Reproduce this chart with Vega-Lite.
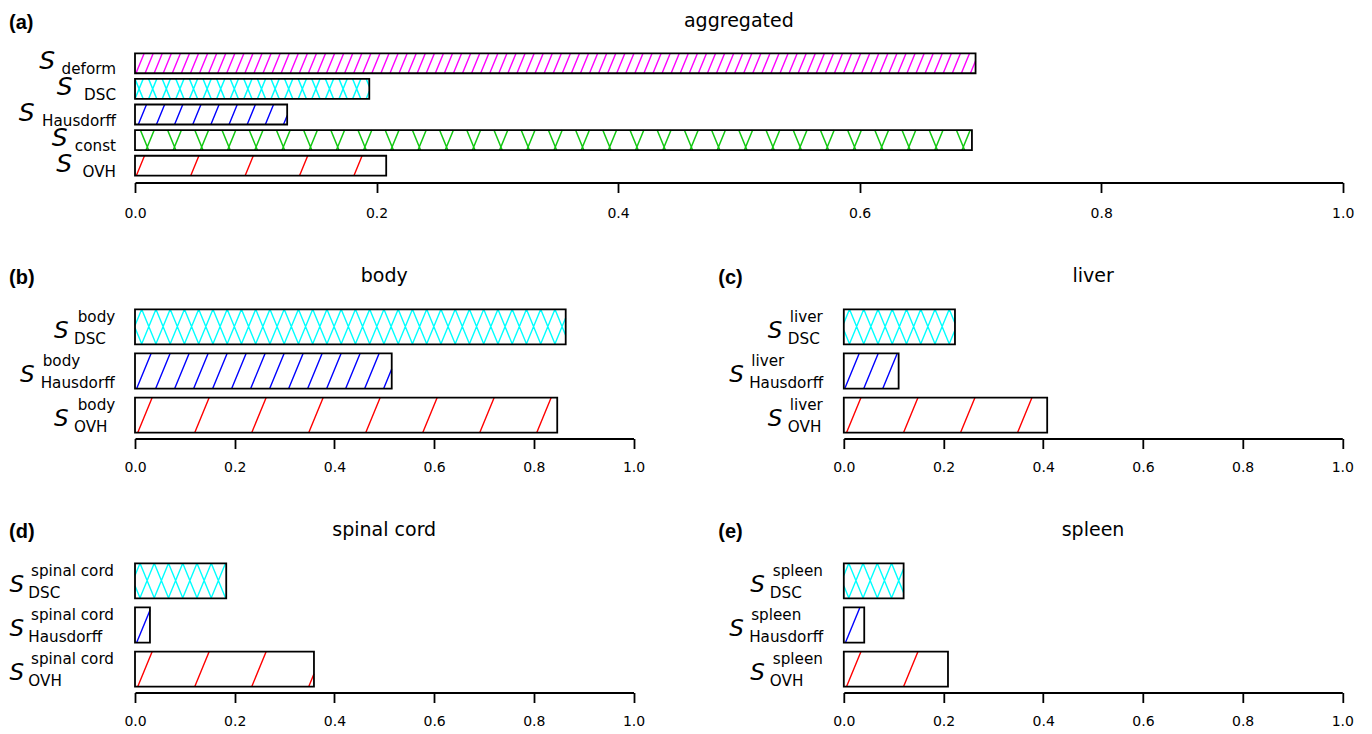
{
"$schema": "https://vega.github.io/schema/vega-lite/v6.json",
"background": "white",
"padding": {"left": 9, "top": 11.5, "right": 10, "bottom": 5},
"spacing": 46,
"resolve": {"scale": {"color": "independent", "shape": "independent"}},
"config": {"view": {"stroke": null}, "axis": {"grid": false}},
"vconcat": [
{
 "width": 1207.7, "height": 136,
 "data": {"values": [
  {"k": "a-deform", "v": 0.696, "sub": "deform"},
  {"k": "a-DSC", "v": 0.194, "sub": "DSC"},
  {"k": "a-Hausdorff", "v": 0.126, "sub": "Hausdorff"},
  {"k": "a-const", "v": 0.693, "sub": "const"},
  {"k": "a-OVH", "v": 0.208, "sub": "OVH"}
 ]},
 "encoding": {"y": {"field": "k", "type": "nominal", "sort": null, "axis": null, "scale": {"paddingInner": 0.22, "paddingOuter": 0.265}}},
 "layer": [
  {"mark": {"type": "point", "filled": false, "size": 4, "strokeWidth": 1.4, "opacity": 1},
   "encoding": {
    "x": {"datum": 0, "type": "quantitative", "scale": {"domain": [0, 1], "nice": false}, "axis": {"values": [0, 0.2, 0.4, 0.6, 0.8, 1], "format": ".1f", "title": null, "grid": false, "domainColor": "black", "domainWidth": 1.8, "tickColor": "black", "tickWidth": 1.8, "tickSize": 10, "labelFont": "DejaVu Sans", "labelFontSize": 14, "labelColor": "black", "labelPadding": 14, "labelFlush": false, "labelOverlap": false}},
    "shape": {"field": "k", "type": "nominal", "legend": null, "scale": {
      "domain": ["a-deform", "a-DSC", "a-Hausdorff", "a-const", "a-OVH"],
      "range": [
       "M 1 10 l 8.2 -20 m 0.87 20 l 8.2 -20 m 0.87 20 l 8.2 -20 m 0.87 20 l 8.2 -20 m 0.87 20 l 8.2 -20 m 0.87 20 l 8.2 -20 m 0.87 20 l 8.2 -20 m 0.87 20 l 8.2 -20 m 0.87 20 l 8.2 -20 m 0.87 20 l 8.2 -20 M 91.7 10 l 8.2 -20 m 0.87 20 l 8.2 -20 m 0.87 20 l 8.2 -20 m 0.87 20 l 8.2 -20 m 0.87 20 l 8.2 -20 m 0.87 20 l 8.2 -20 m 0.87 20 l 8.2 -20 m 0.87 20 l 8.2 -20 m 0.87 20 l 8.2 -20 m 0.87 20 l 8.2 -20 M 182.4 10 l 8.2 -20 m 0.87 20 l 8.2 -20 m 0.87 20 l 8.2 -20 m 0.87 20 l 8.2 -20 m 0.87 20 l 8.2 -20 m 0.87 20 l 8.2 -20 m 0.87 20 l 8.2 -20 m 0.87 20 l 8.2 -20 m 0.87 20 l 8.2 -20 m 0.87 20 l 8.2 -20 M 273.1 10 l 8.2 -20 m 0.87 20 l 8.2 -20 m 0.87 20 l 8.2 -20 m 0.87 20 l 8.2 -20 m 0.87 20 l 8.2 -20 m 0.87 20 l 8.2 -20 m 0.87 20 l 8.2 -20 m 0.87 20 l 8.2 -20 m 0.87 20 l 8.2 -20 m 0.87 20 l 8.2 -20 M 363.8 10 l 8.2 -20 m 0.87 20 l 8.2 -20 m 0.87 20 l 8.2 -20 m 0.87 20 l 8.2 -20 m 0.87 20 l 8.2 -20 m 0.87 20 l 8.2 -20 m 0.87 20 l 8.2 -20 m 0.87 20 l 8.2 -20 m 0.87 20 l 8.2 -20 m 0.87 20 l 8.2 -20 M 454.5 10 l 8.2 -20 m 0.87 20 l 8.2 -20 m 0.87 20 l 8.2 -20 m 0.87 20 l 8.2 -20 m 0.87 20 l 8.2 -20 m 0.87 20 l 8.2 -20 m 0.87 20 l 8.2 -20 m 0.87 20 l 8.2 -20 m 0.87 20 l 8.2 -20 m 0.87 20 l 8.2 -20 M 545.2 10 l 8.2 -20 m 0.87 20 l 8.2 -20 m 0.87 20 l 8.2 -20 m 0.87 20 l 8.2 -20 m 0.87 20 l 8.2 -20 m 0.87 20 l 8.2 -20 m 0.87 20 l 8.2 -20 m 0.87 20 l 8.2 -20 m 0.87 20 l 8.2 -20 m 0.87 20 l 8.2 -20 M 635.9 10 l 8.2 -20 m 0.87 20 l 8.2 -20 m 0.87 20 l 8.2 -20 m 0.87 20 l 8.2 -20 m 0.87 20 l 8.2 -20 m 0.87 20 l 8.2 -20 m 0.87 20 l 8.2 -20 m 0.87 20 l 8.2 -20 m 0.87 20 l 8.2 -20 m 0.87 20 l 8.2 -20 M 726.6 10 l 8.2 -20 m 0.87 20 l 8.2 -20 m 0.87 20 l 8.2 -20 m 0.87 20 l 8.2 -20 m 0.87 20 l 8.2 -20 m 0.87 20 l 8.2 -20 m 0.87 20 l 8.2 -20 m 0.87 20 l 8.2 -20 m 0.87 20 l 8.2 -20 m 0.87 20 l 8.2 -20 M 817.3 10 l 8.2 -20 m 0.87 20 l 8.2 -20 M 835.44 10 L 840.6 -2.6",
       "M 0 10 l 8.2 -20 m 5.4 20 l 8.2 -20 m 5.4 20 l 8.2 -20 m 5.4 20 l 8.2 -20 m 5.4 20 l 8.2 -20 m 5.4 20 l 8.2 -20 m 5.4 20 l 8.2 -20 m 5.4 20 l 8.2 -20 M 108.8 10 l 8.2 -20 m 5.4 20 l 8.2 -20 m 5.4 20 l 8.2 -20 m 5.4 20 l 8.2 -20 m 5.4 20 l 8.2 -20 m 5.4 20 l 8.2 -20 m 5.4 20 l 8.2 -20 m 5.4 20 l 8.2 -20 m 5.4 20 l 8.2 -20 M 231.2 10 L 234.3 2.44 M 0 -10 l 8.2 20 m 5.4 -20 l 8.2 20 m 5.4 -20 l 8.2 20 m 5.4 -20 l 8.2 20 m 5.4 -20 l 8.2 20 m 5.4 -20 l 8.2 20 m 5.4 -20 l 8.2 20 m 5.4 -20 l 8.2 20 M 108.8 -10 l 8.2 20 m 5.4 -20 l 8.2 20 m 5.4 -20 l 8.2 20 m 5.4 -20 l 8.2 20 m 5.4 -20 l 8.2 20 m 5.4 -20 l 8.2 20 m 5.4 -20 l 8.2 20 m 5.4 -20 l 8.2 20 m 5.4 -20 l 8.2 20 M 231.2 -10 L 234.3 -2.44",
       "M 3.3 10 l 8.2 -20 m 9.95 20 l 8.2 -20 m 9.95 20 l 8.2 -20 m 9.95 20 l 8.2 -20 m 9.95 20 l 8.2 -20 m 9.95 20 l 8.2 -20 m 9.95 20 l 8.2 -20 m 9.95 20 l 8.2 -20 M 148.5 10 L 152.2 1",
       "M 10.99 10 l 8.2 -20 m 19 20 l 8.2 -20 m 19 20 l 8.2 -20 m 19 20 l 8.2 -20 m 19 20 l 8.2 -20 m 19 20 l 8.2 -20 m 19 20 l 8.2 -20 m 19 20 l 8.2 -20 m 19 20 l 8.2 -20 m 19 20 l 8.2 -20 M 282.99 10 l 8.2 -20 m 19 20 l 8.2 -20 m 19 20 l 8.2 -20 m 19 20 l 8.2 -20 m 19 20 l 8.2 -20 m 19 20 l 8.2 -20 m 19 20 l 8.2 -20 m 19 20 l 8.2 -20 m 19 20 l 8.2 -20 m 19 20 l 8.2 -20 M 554.99 10 l 8.2 -20 m 19 20 l 8.2 -20 m 19 20 l 8.2 -20 m 19 20 l 8.2 -20 m 19 20 l 8.2 -20 m 19 20 l 8.2 -20 m 19 20 l 8.2 -20 m 19 20 l 8.2 -20 m 19 20 l 8.2 -20 m 19 20 l 8.2 -20 M 826.99 10 l 8.2 -20 M 5.41 -10 l 8.2 20 m 19 -20 l 8.2 20 m 19 -20 l 8.2 20 m 19 -20 l 8.2 20 m 19 -20 l 8.2 20 m 19 -20 l 8.2 20 m 19 -20 l 8.2 20 m 19 -20 l 8.2 20 m 19 -20 l 8.2 20 m 19 -20 l 8.2 20 M 277.41 -10 l 8.2 20 m 19 -20 l 8.2 20 m 19 -20 l 8.2 20 m 19 -20 l 8.2 20 m 19 -20 l 8.2 20 m 19 -20 l 8.2 20 m 19 -20 l 8.2 20 m 19 -20 l 8.2 20 m 19 -20 l 8.2 20 m 19 -20 l 8.2 20 M 549.41 -10 l 8.2 20 m 19 -20 l 8.2 20 m 19 -20 l 8.2 20 m 19 -20 l 8.2 20 m 19 -20 l 8.2 20 m 19 -20 l 8.2 20 m 19 -20 l 8.2 20 m 19 -20 l 8.2 20 m 19 -20 l 8.2 20 m 19 -20 l 8.2 20 M 821.41 -10 l 8.2 20",
       "M 1.3 10 l 8.2 -20 m 46.2 20 l 8.2 -20 m 46.2 20 l 8.2 -20 m 46.2 20 l 8.2 -20 m 46.2 20 l 8.2 -20"
      ]}},
    "color": {"field": "k", "type": "nominal", "legend": null, "scale": {
      "domain": ["a-deform", "a-DSC", "a-Hausdorff", "a-const", "a-OVH"],
      "range": ["#ff00ff", "#00ffff", "#0000ff", "#14c814", "#ff0000"]}}
   }},
  {"mark": {"type": "bar", "filled": false, "stroke": "black", "strokeWidth": 1.8},
   "encoding": {"x": {"field": "v", "type": "quantitative", "scale": {"domain": [0, 1], "nice": false},
     "axis": {"values": [0, 0.2, 0.4, 0.6, 0.8, 1], "format": ".1f", "title": null, "grid": false, "domainColor": "black", "domainWidth": 1.8, "tickColor": "black", "tickWidth": 1.8, "tickSize": 10, "labelFont": "DejaVu Sans", "labelFontSize": 14, "labelColor": "black", "labelPadding": 14, "labelFlush": false, "labelOverlap": false}}}},
  {"mark": {"type": "text", "align": "right", "baseline": "alphabetic", "dx": -19, "dy": 11, "fontSize": 15.2, "font": "DejaVu Sans"},
   "encoding": {"x": {"datum": 0, "type": "quantitative", "scale": {"domain": [0, 1], "nice": false}, "axis": {"values": [0, 0.2, 0.4, 0.6, 0.8, 1], "format": ".1f", "title": null, "grid": false, "domainColor": "black", "domainWidth": 1.8, "tickColor": "black", "tickWidth": 1.8, "tickSize": 10, "labelFont": "DejaVu Sans", "labelFontSize": 14, "labelColor": "black", "labelPadding": 14, "labelFlush": false, "labelOverlap": false}}, "text": {"field": "sub"}}},
  {"transform": [{"filter": "datum.k === 'a-deform'"}],
   "mark": {"type": "text", "align": "right", "baseline": "alphabetic", "dx": -80, "dy": 6, "fontSize": 25, "fontStyle": "italic", "font": "DejaVu Sans"},
   "encoding": {"x": {"datum": 0, "type": "quantitative", "scale": {"domain": [0, 1], "nice": false}, "axis": {"values": [0, 0.2, 0.4, 0.6, 0.8, 1], "format": ".1f", "title": null, "grid": false, "domainColor": "black", "domainWidth": 1.8, "tickColor": "black", "tickWidth": 1.8, "tickSize": 10, "labelFont": "DejaVu Sans", "labelFontSize": 14, "labelColor": "black", "labelPadding": 14, "labelFlush": false, "labelOverlap": false}}, "text": {"value": "S"}}},
  {"transform": [{"filter": "datum.k === 'a-DSC'"}],
   "mark": {"type": "text", "align": "right", "baseline": "alphabetic", "dx": -62.5, "dy": 6, "fontSize": 25, "fontStyle": "italic", "font": "DejaVu Sans"},
   "encoding": {"x": {"datum": 0, "type": "quantitative", "scale": {"domain": [0, 1], "nice": false}, "axis": {"values": [0, 0.2, 0.4, 0.6, 0.8, 1], "format": ".1f", "title": null, "grid": false, "domainColor": "black", "domainWidth": 1.8, "tickColor": "black", "tickWidth": 1.8, "tickSize": 10, "labelFont": "DejaVu Sans", "labelFontSize": 14, "labelColor": "black", "labelPadding": 14, "labelFlush": false, "labelOverlap": false}}, "text": {"value": "S"}}},
  {"transform": [{"filter": "datum.k === 'a-Hausdorff'"}],
   "mark": {"type": "text", "align": "right", "baseline": "alphabetic", "dx": -100.5, "dy": 6, "fontSize": 25, "fontStyle": "italic", "font": "DejaVu Sans"},
   "encoding": {"x": {"datum": 0, "type": "quantitative", "scale": {"domain": [0, 1], "nice": false}, "axis": {"values": [0, 0.2, 0.4, 0.6, 0.8, 1], "format": ".1f", "title": null, "grid": false, "domainColor": "black", "domainWidth": 1.8, "tickColor": "black", "tickWidth": 1.8, "tickSize": 10, "labelFont": "DejaVu Sans", "labelFontSize": 14, "labelColor": "black", "labelPadding": 14, "labelFlush": false, "labelOverlap": false}}, "text": {"value": "S"}}},
  {"transform": [{"filter": "datum.k === 'a-const'"}],
   "mark": {"type": "text", "align": "right", "baseline": "alphabetic", "dx": -67.5, "dy": 6, "fontSize": 25, "fontStyle": "italic", "font": "DejaVu Sans"},
   "encoding": {"x": {"datum": 0, "type": "quantitative", "scale": {"domain": [0, 1], "nice": false}, "axis": {"values": [0, 0.2, 0.4, 0.6, 0.8, 1], "format": ".1f", "title": null, "grid": false, "domainColor": "black", "domainWidth": 1.8, "tickColor": "black", "tickWidth": 1.8, "tickSize": 10, "labelFont": "DejaVu Sans", "labelFontSize": 14, "labelColor": "black", "labelPadding": 14, "labelFlush": false, "labelOverlap": false}}, "text": {"value": "S"}}},
  {"transform": [{"filter": "datum.k === 'a-OVH'"}],
   "mark": {"type": "text", "align": "right", "baseline": "alphabetic", "dx": -63, "dy": 6, "fontSize": 25, "fontStyle": "italic", "font": "DejaVu Sans"},
   "encoding": {"x": {"datum": 0, "type": "quantitative", "scale": {"domain": [0, 1], "nice": false}, "axis": {"values": [0, 0.2, 0.4, 0.6, 0.8, 1], "format": ".1f", "title": null, "grid": false, "domainColor": "black", "domainWidth": 1.8, "tickColor": "black", "tickWidth": 1.8, "tickSize": 10, "labelFont": "DejaVu Sans", "labelFontSize": 14, "labelColor": "black", "labelPadding": 14, "labelFlush": false, "labelOverlap": false}}, "text": {"value": "S"}}},
  {"data": {"values": [{"t": "aggregated"}]},
   "mark": {"type": "text", "align": "center", "baseline": "alphabetic", "fontSize": 19, "font": "DejaVu Sans"},
   "encoding": {"x": {"value": 603.85}, "y": {"value": -19.5}, "text": {"field": "t"}}},
  {"data": {"values": [{"t": "(a)"}]},
   "mark": {"type": "text", "align": "left", "baseline": "alphabetic", "fontSize": 20, "font": "Liberation Sans", "fontWeight": "bold"},
   "encoding": {"x": {"value": -126}, "y": {"value": -17.5}, "text": {"field": "t"}}}
 ]
},
{
 "hconcat": [
 {
  "width": 498.5, "height": 135,
  "data": {"values": [
   {"k": "b-DSC", "v": 0.864, "sup": "body", "sub": "DSC"},
   {"k": "b-Hausdorff", "v": 0.515, "sup": "body", "sub": "Hausdorff"},
   {"k": "b-OVH", "v": 0.847, "sup": "body", "sub": "OVH"}
  ]},
  "encoding": {"y": {"field": "k", "type": "nominal", "sort": null, "axis": null, "scale": {"paddingInner": 0.206, "paddingOuter": 0.131}}},
  "layer": [
   {"mark": {"type": "point", "filled": false, "size": 4, "strokeWidth": 1.4, "opacity": 1},
    "encoding": {
     "x": {"datum": 0, "type": "quantitative", "scale": {"domain": [0, 1], "nice": false}, "axis": {"values": [0, 0.2, 0.4, 0.6, 0.8, 1], "format": ".1f", "title": null, "grid": false, "domainColor": "black", "domainWidth": 1.8, "tickColor": "black", "tickWidth": 1.8, "tickSize": 10, "labelFont": "DejaVu Sans", "labelFontSize": 14, "labelColor": "black", "labelPadding": 12, "labelFlush": false, "labelOverlap": false}},
     "shape": {"field": "k", "type": "nominal", "legend": null, "scale": {
       "domain": ["b-DSC", "b-Hausdorff", "b-OVH"],
       "range": [
        "M 0 -1.22 L 6.7 -17.5 M 6.55 17.5 l 14.4 -35 m -0.15 35 l 14.4 -35 m -0.15 35 l 14.4 -35 m -0.15 35 l 14.4 -35 m -0.15 35 l 14.4 -35 m -0.15 35 l 14.4 -35 m -0.15 35 l 14.4 -35 m -0.15 35 l 14.4 -35 m -0.15 35 l 14.4 -35 m -0.15 35 l 14.4 -35 M 149.05 17.5 l 14.4 -35 m -0.15 35 l 14.4 -35 m -0.15 35 l 14.4 -35 m -0.15 35 l 14.4 -35 m -0.15 35 l 14.4 -35 m -0.15 35 l 14.4 -35 m -0.15 35 l 14.4 -35 m -0.15 35 l 14.4 -35 m -0.15 35 l 14.4 -35 m -0.15 35 l 14.4 -35 M 291.55 17.5 l 14.4 -35 m -0.15 35 l 14.4 -35 m -0.15 35 l 14.4 -35 m -0.15 35 l 14.4 -35 m -0.15 35 l 14.4 -35 m -0.15 35 l 14.4 -35 m -0.15 35 l 14.4 -35 m -0.15 35 l 14.4 -35 m -0.15 35 l 14.4 -35 M 419.8 17.5 L 430.7 -9 M 0 0.85 L 6.85 17.5 M 6.7 -17.5 l 14.4 35 m -0.15 -35 l 14.4 35 m -0.15 -35 l 14.4 35 m -0.15 -35 l 14.4 35 m -0.15 -35 l 14.4 35 m -0.15 -35 l 14.4 35 m -0.15 -35 l 14.4 35 m -0.15 -35 l 14.4 35 m -0.15 -35 l 14.4 35 m -0.15 -35 l 14.4 35 M 149.2 -17.5 l 14.4 35 m -0.15 -35 l 14.4 35 m -0.15 -35 l 14.4 35 m -0.15 -35 l 14.4 35 m -0.15 -35 l 14.4 35 m -0.15 -35 l 14.4 35 m -0.15 -35 l 14.4 35 m -0.15 -35 l 14.4 35 m -0.15 -35 l 14.4 35 m -0.15 -35 l 14.4 35 M 291.7 -17.5 l 14.4 35 m -0.15 -35 l 14.4 35 m -0.15 -35 l 14.4 35 m -0.15 -35 l 14.4 35 m -0.15 -35 l 14.4 35 m -0.15 -35 l 14.4 35 m -0.15 -35 l 14.4 35 m -0.15 -35 l 14.4 35 m -0.15 -35 l 14.4 35 M 419.95 -17.5 L 430.7 8.63",
        "M 1.7 17.5 l 14.4 -35 m 4.6 35 l 14.4 -35 m 4.6 35 l 14.4 -35 m 4.6 35 l 14.4 -35 m 4.6 35 l 14.4 -35 m 4.6 35 l 14.4 -35 M 115.7 17.5 l 14.4 -35 m 4.6 35 l 14.4 -35 m 4.6 35 l 14.4 -35 m 4.6 35 l 14.4 -35 m 4.6 35 l 14.4 -35 m 4.6 35 l 14.4 -35 m 4.6 35 l 14.4 -35 M 248.7 17.5 L 256.7 -1.94",
        "M 2.7 17.5 l 14.4 -35 m 42.6 35 l 14.4 -35 m 42.6 35 l 14.4 -35 m 42.6 35 l 14.4 -35 m 42.6 35 l 14.4 -35 m 42.6 35 l 14.4 -35 m 42.6 35 l 14.4 -35 m 42.6 35 l 14.4 -35"
       ]}},
     "color": {"field": "k", "type": "nominal", "legend": null, "scale": {"domain": ["b-DSC", "b-Hausdorff", "b-OVH"], "range": ["#00ffff", "#0000ff", "#ff0000"]}}
    }},
   {"mark": {"type": "bar", "filled": false, "stroke": "black", "strokeWidth": 1.8},
    "encoding": {"x": {"field": "v", "type": "quantitative", "scale": {"domain": [0, 1], "nice": false},
      "axis": {"values": [0, 0.2, 0.4, 0.6, 0.8, 1], "format": ".1f", "title": null, "grid": false, "domainColor": "black", "domainWidth": 1.8, "tickColor": "black", "tickWidth": 1.8, "tickSize": 10, "labelFont": "DejaVu Sans", "labelFontSize": 14, "labelColor": "black", "labelPadding": 12, "labelFlush": false, "labelOverlap": false}}}},
   {"transform": [{"filter": "datum.k !== 'b-Hausdorff'"}],
    "mark": {"type": "text", "align": "right", "baseline": "alphabetic", "dx": -66.5, "dy": 11, "fontSize": 23, "fontStyle": "italic", "font": "DejaVu Sans"},
    "encoding": {"x": {"datum": 0, "type": "quantitative", "scale": {"domain": [0, 1], "nice": false}, "axis": {"values": [0, 0.2, 0.4, 0.6, 0.8, 1], "format": ".1f", "title": null, "grid": false, "domainColor": "black", "domainWidth": 1.8, "tickColor": "black", "tickWidth": 1.8, "tickSize": 10, "labelFont": "DejaVu Sans", "labelFontSize": 14, "labelColor": "black", "labelPadding": 12, "labelFlush": false, "labelOverlap": false}}, "text": {"value": "S"}}},
   {"transform": [{"filter": "datum.k !== 'b-Hausdorff'"}],
    "mark": {"type": "text", "align": "left", "baseline": "alphabetic", "dx": -57.3, "dy": -5, "fontSize": 15.2, "font": "DejaVu Sans"},
    "encoding": {"x": {"datum": 0, "type": "quantitative", "scale": {"domain": [0, 1], "nice": false}, "axis": {"values": [0, 0.2, 0.4, 0.6, 0.8, 1], "format": ".1f", "title": null, "grid": false, "domainColor": "black", "domainWidth": 1.8, "tickColor": "black", "tickWidth": 1.8, "tickSize": 10, "labelFont": "DejaVu Sans", "labelFontSize": 14, "labelColor": "black", "labelPadding": 12, "labelFlush": false, "labelOverlap": false}}, "text": {"field": "sup"}}},
   {"transform": [{"filter": "datum.k !== 'b-Hausdorff'"}],
    "mark": {"type": "text", "align": "left", "baseline": "alphabetic", "dx": -61, "dy": 17.3, "fontSize": 15.2, "font": "DejaVu Sans"},
    "encoding": {"x": {"datum": 0, "type": "quantitative", "scale": {"domain": [0, 1], "nice": false}, "axis": {"values": [0, 0.2, 0.4, 0.6, 0.8, 1], "format": ".1f", "title": null, "grid": false, "domainColor": "black", "domainWidth": 1.8, "tickColor": "black", "tickWidth": 1.8, "tickSize": 10, "labelFont": "DejaVu Sans", "labelFontSize": 14, "labelColor": "black", "labelPadding": 12, "labelFlush": false, "labelOverlap": false}}, "text": {"field": "sub"}}},
   {"transform": [{"filter": "datum.k === 'b-Hausdorff'"}],
    "mark": {"type": "text", "align": "right", "baseline": "alphabetic", "dx": -100.5, "dy": 11, "fontSize": 23, "fontStyle": "italic", "font": "DejaVu Sans"},
    "encoding": {"x": {"datum": 0, "type": "quantitative", "scale": {"domain": [0, 1], "nice": false}, "axis": {"values": [0, 0.2, 0.4, 0.6, 0.8, 1], "format": ".1f", "title": null, "grid": false, "domainColor": "black", "domainWidth": 1.8, "tickColor": "black", "tickWidth": 1.8, "tickSize": 10, "labelFont": "DejaVu Sans", "labelFontSize": 14, "labelColor": "black", "labelPadding": 12, "labelFlush": false, "labelOverlap": false}}, "text": {"value": "S"}}},
   {"transform": [{"filter": "datum.k === 'b-Hausdorff'"}],
    "mark": {"type": "text", "align": "left", "baseline": "alphabetic", "dx": -92.3, "dy": -5, "fontSize": 15.2, "font": "DejaVu Sans"},
    "encoding": {"x": {"datum": 0, "type": "quantitative", "scale": {"domain": [0, 1], "nice": false}, "axis": {"values": [0, 0.2, 0.4, 0.6, 0.8, 1], "format": ".1f", "title": null, "grid": false, "domainColor": "black", "domainWidth": 1.8, "tickColor": "black", "tickWidth": 1.8, "tickSize": 10, "labelFont": "DejaVu Sans", "labelFontSize": 14, "labelColor": "black", "labelPadding": 12, "labelFlush": false, "labelOverlap": false}}, "text": {"field": "sup"}}},
   {"transform": [{"filter": "datum.k === 'b-Hausdorff'"}],
    "mark": {"type": "text", "align": "left", "baseline": "alphabetic", "dx": -94.3, "dy": 17.3, "fontSize": 15.2, "font": "DejaVu Sans"},
    "encoding": {"x": {"datum": 0, "type": "quantitative", "scale": {"domain": [0, 1], "nice": false}, "axis": {"values": [0, 0.2, 0.4, 0.6, 0.8, 1], "format": ".1f", "title": null, "grid": false, "domainColor": "black", "domainWidth": 1.8, "tickColor": "black", "tickWidth": 1.8, "tickSize": 10, "labelFont": "DejaVu Sans", "labelFontSize": 14, "labelColor": "black", "labelPadding": 12, "labelFlush": false, "labelOverlap": false}}, "text": {"field": "sub"}}},
   {"data": {"values": [{"t": "body"}]},
    "mark": {"type": "text", "align": "center", "baseline": "alphabetic", "fontSize": 19, "font": "DejaVu Sans"},
    "encoding": {"x": {"value": 249.25}, "y": {"value": -21.5}, "text": {"field": "t"}}},
   {"data": {"values": [{"t": "(b)"}]},
    "mark": {"type": "text", "align": "left", "baseline": "alphabetic", "fontSize": 20, "font": "Liberation Sans", "fontWeight": "bold"},
    "encoding": {"x": {"value": -126}, "y": {"value": -19.5}, "text": {"field": "t"}}}
  ]
 },
 {
  "width": 498.5, "height": 135,
  "data": {"values": [
   {"k": "c-DSC", "v": 0.223, "sup": "liver", "sub": "DSC"},
   {"k": "c-Hausdorff", "v": 0.110, "sup": "liver", "sub": "Hausdorff"},
   {"k": "c-OVH", "v": 0.408, "sup": "liver", "sub": "OVH"}
  ]},
  "encoding": {"y": {"field": "k", "type": "nominal", "sort": null, "axis": null, "scale": {"paddingInner": 0.206, "paddingOuter": 0.131}}},
  "layer": [
   {"mark": {"type": "point", "filled": false, "size": 4, "strokeWidth": 1.4, "opacity": 1},
    "encoding": {
     "x": {"datum": 0, "type": "quantitative", "scale": {"domain": [0, 1], "nice": false}, "axis": {"values": [0, 0.2, 0.4, 0.6, 0.8, 1], "format": ".1f", "title": null, "grid": false, "domainColor": "black", "domainWidth": 1.8, "tickColor": "black", "tickWidth": 1.8, "tickSize": 10, "labelFont": "DejaVu Sans", "labelFontSize": 14, "labelColor": "black", "labelPadding": 12, "labelFlush": false, "labelOverlap": false}},
     "shape": {"field": "k", "type": "nominal", "legend": null, "scale": {
       "domain": ["c-DSC", "c-Hausdorff", "c-OVH"],
       "range": [
        "M 0 -3.65 L 5.7 -17.5 M 5.55 17.5 l 14.4 -35 m -0.15 35 l 14.4 -35 m -0.15 35 l 14.4 -35 m -0.15 35 l 14.4 -35 m -0.15 35 l 14.4 -35 m -0.15 35 l 14.4 -35 m -0.15 35 l 14.4 -35 M 105.3 17.5 L 111.2 3.16 M 0 3.28 L 5.85 17.5 M 5.7 -17.5 l 14.4 35 m -0.15 -35 l 14.4 35 m -0.15 -35 l 14.4 35 m -0.15 -35 l 14.4 35 m -0.15 -35 l 14.4 35 m -0.15 -35 l 14.4 35 m -0.15 -35 l 14.4 35 M 105.45 -17.5 L 111.2 -3.53",
        "M 1 17.5 l 14.4 -35 m 4.6 35 l 14.4 -35 m 4.6 35 l 14.4 -35",
        "M 2.7 17.5 l 14.4 -35 m 42.6 35 l 14.4 -35 m 42.6 35 l 14.4 -35 m 42.6 35 l 14.4 -35"
       ]}},
     "color": {"field": "k", "type": "nominal", "legend": null, "scale": {"domain": ["c-DSC", "c-Hausdorff", "c-OVH"], "range": ["#00ffff", "#0000ff", "#ff0000"]}}
    }},
   {"mark": {"type": "bar", "filled": false, "stroke": "black", "strokeWidth": 1.8},
    "encoding": {"x": {"field": "v", "type": "quantitative", "scale": {"domain": [0, 1], "nice": false},
      "axis": {"values": [0, 0.2, 0.4, 0.6, 0.8, 1], "format": ".1f", "title": null, "grid": false, "domainColor": "black", "domainWidth": 1.8, "tickColor": "black", "tickWidth": 1.8, "tickSize": 10, "labelFont": "DejaVu Sans", "labelFontSize": 14, "labelColor": "black", "labelPadding": 12, "labelFlush": false, "labelOverlap": false}}}},
   {"transform": [{"filter": "datum.k !== 'c-Hausdorff'"}],
    "mark": {"type": "text", "align": "right", "baseline": "alphabetic", "dx": -61.5, "dy": 11, "fontSize": 23, "fontStyle": "italic", "font": "DejaVu Sans"},
    "encoding": {"x": {"datum": 0, "type": "quantitative", "scale": {"domain": [0, 1], "nice": false}, "axis": {"values": [0, 0.2, 0.4, 0.6, 0.8, 1], "format": ".1f", "title": null, "grid": false, "domainColor": "black", "domainWidth": 1.8, "tickColor": "black", "tickWidth": 1.8, "tickSize": 10, "labelFont": "DejaVu Sans", "labelFontSize": 14, "labelColor": "black", "labelPadding": 12, "labelFlush": false, "labelOverlap": false}}, "text": {"value": "S"}}},
   {"transform": [{"filter": "datum.k !== 'c-Hausdorff'"}],
    "mark": {"type": "text", "align": "left", "baseline": "alphabetic", "dx": -54, "dy": -5, "fontSize": 15.2, "font": "DejaVu Sans"},
    "encoding": {"x": {"datum": 0, "type": "quantitative", "scale": {"domain": [0, 1], "nice": false}, "axis": {"values": [0, 0.2, 0.4, 0.6, 0.8, 1], "format": ".1f", "title": null, "grid": false, "domainColor": "black", "domainWidth": 1.8, "tickColor": "black", "tickWidth": 1.8, "tickSize": 10, "labelFont": "DejaVu Sans", "labelFontSize": 14, "labelColor": "black", "labelPadding": 12, "labelFlush": false, "labelOverlap": false}}, "text": {"field": "sup"}}},
   {"transform": [{"filter": "datum.k !== 'c-Hausdorff'"}],
    "mark": {"type": "text", "align": "left", "baseline": "alphabetic", "dx": -56, "dy": 17.3, "fontSize": 15.2, "font": "DejaVu Sans"},
    "encoding": {"x": {"datum": 0, "type": "quantitative", "scale": {"domain": [0, 1], "nice": false}, "axis": {"values": [0, 0.2, 0.4, 0.6, 0.8, 1], "format": ".1f", "title": null, "grid": false, "domainColor": "black", "domainWidth": 1.8, "tickColor": "black", "tickWidth": 1.8, "tickSize": 10, "labelFont": "DejaVu Sans", "labelFontSize": 14, "labelColor": "black", "labelPadding": 12, "labelFlush": false, "labelOverlap": false}}, "text": {"field": "sub"}}},
   {"transform": [{"filter": "datum.k === 'c-Hausdorff'"}],
    "mark": {"type": "text", "align": "right", "baseline": "alphabetic", "dx": -100, "dy": 11, "fontSize": 23, "fontStyle": "italic", "font": "DejaVu Sans"},
    "encoding": {"x": {"datum": 0, "type": "quantitative", "scale": {"domain": [0, 1], "nice": false}, "axis": {"values": [0, 0.2, 0.4, 0.6, 0.8, 1], "format": ".1f", "title": null, "grid": false, "domainColor": "black", "domainWidth": 1.8, "tickColor": "black", "tickWidth": 1.8, "tickSize": 10, "labelFont": "DejaVu Sans", "labelFontSize": 14, "labelColor": "black", "labelPadding": 12, "labelFlush": false, "labelOverlap": false}}, "text": {"value": "S"}}},
   {"transform": [{"filter": "datum.k === 'c-Hausdorff'"}],
    "mark": {"type": "text", "align": "left", "baseline": "alphabetic", "dx": -92.6, "dy": -5, "fontSize": 15.2, "font": "DejaVu Sans"},
    "encoding": {"x": {"datum": 0, "type": "quantitative", "scale": {"domain": [0, 1], "nice": false}, "axis": {"values": [0, 0.2, 0.4, 0.6, 0.8, 1], "format": ".1f", "title": null, "grid": false, "domainColor": "black", "domainWidth": 1.8, "tickColor": "black", "tickWidth": 1.8, "tickSize": 10, "labelFont": "DejaVu Sans", "labelFontSize": 14, "labelColor": "black", "labelPadding": 12, "labelFlush": false, "labelOverlap": false}}, "text": {"field": "sup"}}},
   {"transform": [{"filter": "datum.k === 'c-Hausdorff'"}],
    "mark": {"type": "text", "align": "left", "baseline": "alphabetic", "dx": -94.6, "dy": 17.3, "fontSize": 15.2, "font": "DejaVu Sans"},
    "encoding": {"x": {"datum": 0, "type": "quantitative", "scale": {"domain": [0, 1], "nice": false}, "axis": {"values": [0, 0.2, 0.4, 0.6, 0.8, 1], "format": ".1f", "title": null, "grid": false, "domainColor": "black", "domainWidth": 1.8, "tickColor": "black", "tickWidth": 1.8, "tickSize": 10, "labelFont": "DejaVu Sans", "labelFontSize": 14, "labelColor": "black", "labelPadding": 12, "labelFlush": false, "labelOverlap": false}}, "text": {"field": "sub"}}},
   {"data": {"values": [{"t": "liver"}]},
    "mark": {"type": "text", "align": "center", "baseline": "alphabetic", "fontSize": 19, "font": "DejaVu Sans"},
    "encoding": {"x": {"value": 249.25}, "y": {"value": -21.5}, "text": {"field": "t"}}},
   {"data": {"values": [{"t": "(c)"}]},
    "mark": {"type": "text", "align": "left", "baseline": "alphabetic", "fontSize": 20, "font": "Liberation Sans", "fontWeight": "bold"},
    "encoding": {"x": {"value": -125.5}, "y": {"value": -19.5}, "text": {"field": "t"}}}
  ]
 }
 ],
 "spacing": 209.8,
 "bounds": "flush",
 "resolve": {"scale": {"color": "independent", "shape": "independent"}}
},
{
 "hconcat": [
 {
  "width": 498.5, "height": 135,
  "data": {"values": [
   {"k": "d-DSC", "v": 0.183, "sup": "spinal cord", "sub": "DSC"},
   {"k": "d-Hausdorff", "v": 0.030, "sup": "spinal cord", "sub": "Hausdorff"},
   {"k": "d-OVH", "v": 0.359, "sup": "spinal cord", "sub": "OVH"}
  ]},
  "encoding": {"y": {"field": "k", "type": "nominal", "sort": null, "axis": null, "scale": {"paddingInner": 0.206, "paddingOuter": 0.131}}},
  "layer": [
   {"mark": {"type": "point", "filled": false, "size": 4, "strokeWidth": 1.4, "opacity": 1},
    "encoding": {
     "x": {"datum": 0, "type": "quantitative", "scale": {"domain": [0, 1], "nice": false}, "axis": {"values": [0, 0.2, 0.4, 0.6, 0.8, 1], "format": ".1f", "title": null, "grid": false, "domainColor": "black", "domainWidth": 1.8, "tickColor": "black", "tickWidth": 1.8, "tickSize": 10, "labelFont": "DejaVu Sans", "labelFontSize": 14, "labelColor": "black", "labelPadding": 12, "labelFlush": false, "labelOverlap": false}},
     "shape": {"field": "k", "type": "nominal", "legend": null, "scale": {
       "domain": ["d-DSC", "d-Hausdorff", "d-OVH"],
       "range": [
        "M 0 -5.35 L 5 -17.5 M 4.85 17.5 l 14.4 -35 m -0.15 35 l 14.4 -35 m -0.15 35 l 14.4 -35 m -0.15 35 l 14.4 -35 m -0.15 35 l 14.4 -35 m -0.15 35 l 14.4 -35 M 0 4.98 L 5.15 17.5 M 5 -17.5 l 14.4 35 m -0.15 -35 l 14.4 35 m -0.15 -35 l 14.4 35 m -0.15 -35 l 14.4 35 m -0.15 -35 l 14.4 35 m -0.15 -35 l 14.4 35",
        "M 1.7 17.5 L 15 -14.8",
        "M 2.7 17.5 l 14.4 -35 m 42.6 35 l 14.4 -35 m 42.6 35 l 14.4 -35 M 173.7 17.5 L 179 4.6"
       ]}},
     "color": {"field": "k", "type": "nominal", "legend": null, "scale": {"domain": ["d-DSC", "d-Hausdorff", "d-OVH"], "range": ["#00ffff", "#0000ff", "#ff0000"]}}
    }},
   {"mark": {"type": "bar", "filled": false, "stroke": "black", "strokeWidth": 1.8},
    "encoding": {"x": {"field": "v", "type": "quantitative", "scale": {"domain": [0, 1], "nice": false},
      "axis": {"values": [0, 0.2, 0.4, 0.6, 0.8, 1], "format": ".1f", "title": null, "grid": false, "domainColor": "black", "domainWidth": 1.8, "tickColor": "black", "tickWidth": 1.8, "tickSize": 10, "labelFont": "DejaVu Sans", "labelFontSize": 14, "labelColor": "black", "labelPadding": 12, "labelFlush": false, "labelOverlap": false}}}},
   {"mark": {"type": "text", "align": "right", "baseline": "alphabetic", "dx": -111, "dy": 11, "fontSize": 23, "fontStyle": "italic", "font": "DejaVu Sans"},
    "encoding": {"x": {"datum": 0, "type": "quantitative", "scale": {"domain": [0, 1], "nice": false}, "axis": {"values": [0, 0.2, 0.4, 0.6, 0.8, 1], "format": ".1f", "title": null, "grid": false, "domainColor": "black", "domainWidth": 1.8, "tickColor": "black", "tickWidth": 1.8, "tickSize": 10, "labelFont": "DejaVu Sans", "labelFontSize": 14, "labelColor": "black", "labelPadding": 12, "labelFlush": false, "labelOverlap": false}}, "text": {"value": "S"}}},
   {"mark": {"type": "text", "align": "left", "baseline": "alphabetic", "dx": -104, "dy": -5, "fontSize": 15.2, "font": "DejaVu Sans"},
    "encoding": {"x": {"datum": 0, "type": "quantitative", "scale": {"domain": [0, 1], "nice": false}, "axis": {"values": [0, 0.2, 0.4, 0.6, 0.8, 1], "format": ".1f", "title": null, "grid": false, "domainColor": "black", "domainWidth": 1.8, "tickColor": "black", "tickWidth": 1.8, "tickSize": 10, "labelFont": "DejaVu Sans", "labelFontSize": 14, "labelColor": "black", "labelPadding": 12, "labelFlush": false, "labelOverlap": false}}, "text": {"field": "sup"}}},
   {"mark": {"type": "text", "align": "left", "baseline": "alphabetic", "dx": -106.7, "dy": 17.3, "fontSize": 15.2, "font": "DejaVu Sans"},
    "encoding": {"x": {"datum": 0, "type": "quantitative", "scale": {"domain": [0, 1], "nice": false}, "axis": {"values": [0, 0.2, 0.4, 0.6, 0.8, 1], "format": ".1f", "title": null, "grid": false, "domainColor": "black", "domainWidth": 1.8, "tickColor": "black", "tickWidth": 1.8, "tickSize": 10, "labelFont": "DejaVu Sans", "labelFontSize": 14, "labelColor": "black", "labelPadding": 12, "labelFlush": false, "labelOverlap": false}}, "text": {"field": "sub"}}},
   {"data": {"values": [{"t": "spinal cord"}]},
    "mark": {"type": "text", "align": "center", "baseline": "alphabetic", "fontSize": 19, "font": "DejaVu Sans"},
    "encoding": {"x": {"value": 249.25}, "y": {"value": -21.5}, "text": {"field": "t"}}},
   {"data": {"values": [{"t": "(d)"}]},
    "mark": {"type": "text", "align": "left", "baseline": "alphabetic", "fontSize": 20, "font": "Liberation Sans", "fontWeight": "bold"},
    "encoding": {"x": {"value": -126}, "y": {"value": -19.5}, "text": {"field": "t"}}}
  ]
 },
 {
  "width": 498.5, "height": 135,
  "data": {"values": [
   {"k": "e-DSC", "v": 0.120, "sup": "spleen", "sub": "DSC"},
   {"k": "e-Hausdorff", "v": 0.041, "sup": "spleen", "sub": "Hausdorff"},
   {"k": "e-OVH", "v": 0.209, "sup": "spleen", "sub": "OVH"}
  ]},
  "encoding": {"y": {"field": "k", "type": "nominal", "sort": null, "axis": null, "scale": {"paddingInner": 0.206, "paddingOuter": 0.131}}},
  "layer": [
   {"mark": {"type": "point", "filled": false, "size": 4, "strokeWidth": 1.4, "opacity": 1},
    "encoding": {
     "x": {"datum": 0, "type": "quantitative", "scale": {"domain": [0, 1], "nice": false}, "axis": {"values": [0, 0.2, 0.4, 0.6, 0.8, 1], "format": ".1f", "title": null, "grid": false, "domainColor": "black", "domainWidth": 1.8, "tickColor": "black", "tickWidth": 1.8, "tickSize": 10, "labelFont": "DejaVu Sans", "labelFontSize": 14, "labelColor": "black", "labelPadding": 12, "labelFlush": false, "labelOverlap": false}},
     "shape": {"field": "k", "type": "nominal", "legend": null, "scale": {
       "domain": ["e-DSC", "e-Hausdorff", "e-OVH"],
       "range": [
        "M 0 -5.35 L 5 -17.5 M 4.85 17.5 l 14.4 -35 m -0.15 35 l 14.4 -35 m -0.15 35 l 14.4 -35 M 47.6 17.5 L 59.8 -12.15 M 0 4.98 L 5.15 17.5 M 5 -17.5 l 14.4 35 m -0.15 -35 l 14.4 35 m -0.15 -35 l 14.4 35 M 47.75 -17.5 L 59.8 11.79",
        "M 1.7 17.5 l 14.4 -35",
        "M 2.7 17.5 l 14.4 -35 m 42.6 35 l 14.4 -35"
       ]}},
     "color": {"field": "k", "type": "nominal", "legend": null, "scale": {"domain": ["e-DSC", "e-Hausdorff", "e-OVH"], "range": ["#00ffff", "#0000ff", "#ff0000"]}}
    }},
   {"mark": {"type": "bar", "filled": false, "stroke": "black", "strokeWidth": 1.8},
    "encoding": {"x": {"field": "v", "type": "quantitative", "scale": {"domain": [0, 1], "nice": false},
      "axis": {"values": [0, 0.2, 0.4, 0.6, 0.8, 1], "format": ".1f", "title": null, "grid": false, "domainColor": "black", "domainWidth": 1.8, "tickColor": "black", "tickWidth": 1.8, "tickSize": 10, "labelFont": "DejaVu Sans", "labelFontSize": 14, "labelColor": "black", "labelPadding": 12, "labelFlush": false, "labelOverlap": false}}}},
   {"transform": [{"filter": "datum.k !== 'e-Hausdorff'"}],
    "mark": {"type": "text", "align": "right", "baseline": "alphabetic", "dx": -79, "dy": 11, "fontSize": 23, "fontStyle": "italic", "font": "DejaVu Sans"},
    "encoding": {"x": {"datum": 0, "type": "quantitative", "scale": {"domain": [0, 1], "nice": false}, "axis": {"values": [0, 0.2, 0.4, 0.6, 0.8, 1], "format": ".1f", "title": null, "grid": false, "domainColor": "black", "domainWidth": 1.8, "tickColor": "black", "tickWidth": 1.8, "tickSize": 10, "labelFont": "DejaVu Sans", "labelFontSize": 14, "labelColor": "black", "labelPadding": 12, "labelFlush": false, "labelOverlap": false}}, "text": {"value": "S"}}},
   {"transform": [{"filter": "datum.k !== 'e-Hausdorff'"}],
    "mark": {"type": "text", "align": "left", "baseline": "alphabetic", "dx": -71, "dy": -5, "fontSize": 15.2, "font": "DejaVu Sans"},
    "encoding": {"x": {"datum": 0, "type": "quantitative", "scale": {"domain": [0, 1], "nice": false}, "axis": {"values": [0, 0.2, 0.4, 0.6, 0.8, 1], "format": ".1f", "title": null, "grid": false, "domainColor": "black", "domainWidth": 1.8, "tickColor": "black", "tickWidth": 1.8, "tickSize": 10, "labelFont": "DejaVu Sans", "labelFontSize": 14, "labelColor": "black", "labelPadding": 12, "labelFlush": false, "labelOverlap": false}}, "text": {"field": "sup"}}},
   {"transform": [{"filter": "datum.k !== 'e-Hausdorff'"}],
    "mark": {"type": "text", "align": "left", "baseline": "alphabetic", "dx": -74, "dy": 17.3, "fontSize": 15.2, "font": "DejaVu Sans"},
    "encoding": {"x": {"datum": 0, "type": "quantitative", "scale": {"domain": [0, 1], "nice": false}, "axis": {"values": [0, 0.2, 0.4, 0.6, 0.8, 1], "format": ".1f", "title": null, "grid": false, "domainColor": "black", "domainWidth": 1.8, "tickColor": "black", "tickWidth": 1.8, "tickSize": 10, "labelFont": "DejaVu Sans", "labelFontSize": 14, "labelColor": "black", "labelPadding": 12, "labelFlush": false, "labelOverlap": false}}, "text": {"field": "sub"}}},
   {"transform": [{"filter": "datum.k === 'e-Hausdorff'"}],
    "mark": {"type": "text", "align": "right", "baseline": "alphabetic", "dx": -100, "dy": 11, "fontSize": 23, "fontStyle": "italic", "font": "DejaVu Sans"},
    "encoding": {"x": {"datum": 0, "type": "quantitative", "scale": {"domain": [0, 1], "nice": false}, "axis": {"values": [0, 0.2, 0.4, 0.6, 0.8, 1], "format": ".1f", "title": null, "grid": false, "domainColor": "black", "domainWidth": 1.8, "tickColor": "black", "tickWidth": 1.8, "tickSize": 10, "labelFont": "DejaVu Sans", "labelFontSize": 14, "labelColor": "black", "labelPadding": 12, "labelFlush": false, "labelOverlap": false}}, "text": {"value": "S"}}},
   {"transform": [{"filter": "datum.k === 'e-Hausdorff'"}],
    "mark": {"type": "text", "align": "left", "baseline": "alphabetic", "dx": -92.6, "dy": -5, "fontSize": 15.2, "font": "DejaVu Sans"},
    "encoding": {"x": {"datum": 0, "type": "quantitative", "scale": {"domain": [0, 1], "nice": false}, "axis": {"values": [0, 0.2, 0.4, 0.6, 0.8, 1], "format": ".1f", "title": null, "grid": false, "domainColor": "black", "domainWidth": 1.8, "tickColor": "black", "tickWidth": 1.8, "tickSize": 10, "labelFont": "DejaVu Sans", "labelFontSize": 14, "labelColor": "black", "labelPadding": 12, "labelFlush": false, "labelOverlap": false}}, "text": {"field": "sup"}}},
   {"transform": [{"filter": "datum.k === 'e-Hausdorff'"}],
    "mark": {"type": "text", "align": "left", "baseline": "alphabetic", "dx": -94.6, "dy": 17.3, "fontSize": 15.2, "font": "DejaVu Sans"},
    "encoding": {"x": {"datum": 0, "type": "quantitative", "scale": {"domain": [0, 1], "nice": false}, "axis": {"values": [0, 0.2, 0.4, 0.6, 0.8, 1], "format": ".1f", "title": null, "grid": false, "domainColor": "black", "domainWidth": 1.8, "tickColor": "black", "tickWidth": 1.8, "tickSize": 10, "labelFont": "DejaVu Sans", "labelFontSize": 14, "labelColor": "black", "labelPadding": 12, "labelFlush": false, "labelOverlap": false}}, "text": {"field": "sub"}}},
   {"data": {"values": [{"t": "spleen"}]},
    "mark": {"type": "text", "align": "center", "baseline": "alphabetic", "fontSize": 19, "font": "DejaVu Sans"},
    "encoding": {"x": {"value": 249.25}, "y": {"value": -21.5}, "text": {"field": "t"}}},
   {"data": {"values": [{"t": "(e)"}]},
    "mark": {"type": "text", "align": "left", "baseline": "alphabetic", "fontSize": 20, "font": "Liberation Sans", "fontWeight": "bold"},
    "encoding": {"x": {"value": -125.5}, "y": {"value": -19.5}, "text": {"field": "t"}}}
  ]
 }
 ],
 "spacing": 209.8,
 "bounds": "flush",
 "resolve": {"scale": {"color": "independent", "shape": "independent"}}
}
]
}
